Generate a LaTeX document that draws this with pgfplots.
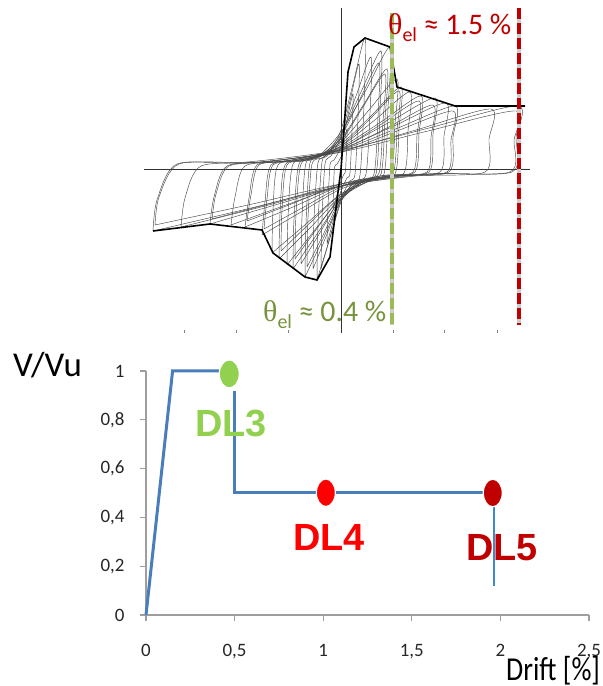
\documentclass[border=0pt]{standalone}
\usepackage{pgfplots}
\pgfplotsset{compat=1.18}
\usepackage{fontspec}
\setmainfont{Carlito}
\newfontfamily\dlfont{Liberation Sans}
\newfontfamily\thfont{Liberation Serif}

\definecolor{exblue}{HTML}{4A7EBB}
\definecolor{thinblue}{HTML}{3A8AD0}
\definecolor{dlgreen}{HTML}{92D050}
\definecolor{dlred}{HTML}{FF0000}
\definecolor{dldark}{HTML}{C00000}
\definecolor{olivetxt}{HTML}{77933C}
\definecolor{lgreen}{HTML}{9BBB59}

\pgfplotsset{
  cyc/.style={black!72, line width=0.45bp, smooth, tension=0.45},
  env/.style={black, line width=1.6bp},
}

\begin{document}
\begin{tikzpicture}[x=1bp,y=1bp]
\useasboundingbox (0,0) rectangle (603,686);

% ---------------- cyclic test: shear force vs. displacement ----------------
\begin{scope}[shift={(144,353)}]
\begin{axis}[
  at={(0,0)}, anchor=south west,
  scale only axis, width=386bp, height=325bp,
  xmin=-197, xmax=189, ymin=-164, ymax=161,
  axis lines=middle, axis line style={-, black!80, line width=0.6bp},
  xtick=\empty, ytick=\empty,
  clip=false,
]
% hysteresis cycles, first cycle at each amplitude
\addplot[cyc] coordinates {(-8,-40) (-7.5,-20) (-6.5,2) (-4,5) (0,12) (3,26) (6,40) (5.5,20) (4.5,-2) (3,-5) (0,-12) (-4,-26) (-8,-40)};
\addplot[cyc] coordinates {(-14,-75) (-13,-38) (-11,4) (-7,9) (0,22) (6,49) (12,75) (11,38) (9,-4) (6,-9) (0,-22) (-7,-49) (-14,-75)};
\addplot[cyc] coordinates {(-20,-100) (-19,-50) (-16,5) (-10,13) (0,32) (9,68) (18,105) (17,52) (14,-5) (9,-12) (0,-30) (-10,-65) (-20,-100)};
\addplot[cyc] coordinates {(-24,-111) (-23,-55) (-19,7) (-12,16) (0,39) (12,85) (24,131) (23,65) (19,-6) (12,-13) (0,-33) (-12,-72) (-24,-111)};
\addplot[cyc] coordinates {(-28,-100) (-27,-50) (-23,6) (-14,13) (0,34) (15,73) (30,112) (29,56) (25,-5) (15,-12) (0,-30) (-14,-65) (-28,-100)};
\addplot[cyc] coordinates {(-36,-108) (-35,-54) (-31,6) (-18,14) (0,35) (20,77) (40,118) (39,59) (35,-5) (20,-13) (0,-32) (-18,-70) (-36,-108)};
\addplot[cyc] coordinates {(-40,-95) (-39,-48) (-35,6) (-20,15) (0,37) (25,79) (49,122) (47,61) (43,-5) (25,-11) (0,-29) (-20,-62) (-40,-95)};
\addplot[cyc] coordinates {(-48,-100) (-47,-50) (-42,5) (-24,12) (0,30) (23,65) (46,100) (44,50) (40,-5) (23,-12) (0,-30) (-24,-65) (-48,-100)};
\addplot[cyc] coordinates {(-54,-96) (-53,-48) (-48,5) (-27,11) (0,27) (28,59) (56,90) (54,45) (50,-5) (28,-12) (0,-29) (-27,-62) (-54,-96)};
\addplot[cyc] coordinates {(-62,-90) (-61,-45) (-56,4) (-31,10) (0,25) (30,53) (60,82) (58,41) (54,-5) (30,-11) (0,-27) (-31,-59) (-62,-90)};
\addplot[cyc] coordinates {(-69,-84) (-68,-42) (-63,4) (-35,9) (0,23) (35,50) (69,77) (67,38) (63,-4) (35,-10) (0,-25) (-35,-55) (-69,-84)};
\addplot[cyc] coordinates {(-79,-66) (-76,-33) (-70,4) (-40,9) (0,22) (40,47) (80,73) (78,36) (74,-3) (40,-8) (0,-20) (-40,-43) (-79,-66)};
\addplot[cyc] coordinates {(-96,-58) (-92,-29) (-84,4) (-48,9) (0,21) (47,46) (94,71) (92,35) (88,-3) (47,-7) (0,-17) (-48,-38) (-96,-58)};
\addplot[cyc] coordinates {(-110,-56) (-106,-28) (-96,3) (-55,8) (0,20) (53,43) (105,66) (103,33) (99,-3) (53,-7) (0,-17) (-55,-36) (-110,-56)};
\addplot[cyc] coordinates {(-131,-55) (-127,-28) (-114,3) (-66,8) (0,19) (57,41) (114,63) (112,32) (108,-3) (57,-7) (0,-17) (-66,-36) (-131,-55)};
\addplot[cyc] coordinates {(-160,-58) (-156,-29) (-140,3) (-80,7) (0,18) (75,39) (150,60) (148,30) (144,-3) (75,-7) (0,-17) (-80,-38) (-160,-58)};
\addplot[cyc] coordinates {(-188,-62) (-184,-31) (-164,5) (-94,7) (0,19) (88,41) (177,63) (175,32) (171,-3) (88,-5) (0,-17) (-94,-40) (-188,-62)};
% repeated cycles with degraded strength
\addplot[cyc] coordinates {(-34,-98) (-33,-49) (-29,5) (-17,12) (0,32) (19,70) (38,106) (37,53) (33,-5) (19,-12) (0,-29) (-17,-64) (-34,-98)};
\addplot[cyc] coordinates {(-46,-90) (-45,-45) (-40,5) (-23,11) (0,28) (22,62) (44,95) (42,48) (38,-4) (22,-11) (0,-27) (-23,-58) (-46,-90)};
\addplot[cyc] coordinates {(-60,-82) (-59,-41) (-54,4) (-30,9) (0,23) (29,50) (58,78) (56,39) (52,-4) (29,-10) (0,-25) (-30,-53) (-60,-82)};
\addplot[cyc] coordinates {(-77,-60) (-74,-30) (-68,4) (-39,8) (0,20) (39,44) (78,68) (76,34) (72,-3) (39,-7) (0,-18) (-39,-39) (-77,-60)};
\addplot[cyc] coordinates {(-94,-52) (-90,-26) (-82,4) (-47,8) (0,19) (46,41) (92,64) (90,32) (86,-3) (46,-6) (0,-15) (-47,-34) (-94,-52)};
\addplot[cyc] coordinates {(-129,-50) (-125,-25) (-112,3) (-65,7) (0,17) (56,38) (112,58) (110,29) (106,-3) (56,-6) (0,-15) (-65,-33) (-129,-50)};
\addplot[cyc] coordinates {(-186,-56) (-182,-28) (-162,5) (-93,6) (0,17) (87,38) (175,58) (173,29) (169,-3) (87,-5) (0,-15) (-93,-36) (-186,-56)};
% envelope curves
\addplot[env] coordinates {(0,0) (3,40) (7,97) (13,122) (24,131) (49,122) (56,82) (114,63) (184,63)};
\addplot[env] coordinates {(0,0) (-4,-31) (-11,-88) (-24,-111) (-36,-108) (-68,-84) (-79,-61) (-131,-55) (-188,-62)};
% small ticks along the lower edge
\addplot[only marks, mark=|, mark size=1.5bp, black!50] coordinates {(-157,-163) (-105,-163) (-53,-163) (52,-163) (103,-163) (156,-163)};
% elastic drift limits
\addplot[black!20, line width=4.5bp] coordinates {(51,156) (51,-156)};
\addplot[lgreen, line width=4.5bp, dash pattern=on 11bp off 4bp] coordinates {(51,156) (51,-156)};
\addplot[black!20, line width=4.5bp] coordinates {(178,161) (178,-156)};
\addplot[dldark, line width=4.5bp, dash pattern=on 11bp off 4bp] coordinates {(178,161) (178,-156)};
\end{axis}
\end{scope}

\node[anchor=base west, inner sep=0, text=dldark, font=\fontsize{30}{30}\selectfont] at (388,651)
  {{\thfont θ}\raisebox{-7bp}{\fontsize{20}{20}\selectfont el} ≈ 1.5 \%};
\node[anchor=base west, inner sep=0, text=olivetxt, font=\fontsize{30}{30}\selectfont] at (263,364)
  {{\thfont θ}\raisebox{-7bp}{\fontsize{20}{20}\selectfont el} ≈ 0.4 \%};

% ---------------- damage levels: V/Vu vs. drift ----------------
\begin{scope}[shift={(146,71)}]
\begin{axis}[
  at={(0,0)}, anchor=south west,
  scale only axis, width=443bp, height=244bp,
  xmin=0, xmax=2.5, ymin=0, ymax=1,
  axis x line=bottom, axis y line=left,
  axis line style={-, draw=black!38, line width=1.3bp},
  xtick={0,0.5,1,1.5,2,2.5}, ytick={0,0.2,0.4,0.6,0.8,1},
  tick align=outside, major tick length=6bp,
  tick style={black!38, line width=1.2bp},
  ticklabel style={font=\fontsize{19}{19}\selectfont, text=black!85},
  xticklabel style={yshift=-20bp},
  yticklabel style={xshift=-12bp},
  xticklabel={\pgfmathprintnumber[fixed, use comma, precision=1, assume math mode=true]{\tick}},
  yticklabel={\pgfmathprintnumber[fixed, use comma, precision=1, assume math mode=true]{\tick}},
  clip=false,
]
\addplot[exblue, line width=3bp] coordinates {(0,0) (0.15,1) (0.47,1)};
\addplot[exblue, line width=3bp] coordinates {(0.5,0.92) (0.5,0.5) (1.96,0.5)};
\addplot[thinblue, line width=1.5bp] coordinates {(1.963,0.5) (1.963,0.12)};
\addplot[only marks, mark=*, mark size=10bp, mark options={yscale=1.4, draw=white, line width=1.2bp, fill=dlgreen}] coordinates {(0.47,0.988)};
\addplot[only marks, mark=*, mark size=9.5bp, mark options={yscale=1.45, draw=white, line width=1.2bp, fill=dlred}] coordinates {(1.015,0.501)};
\addplot[only marks, mark=*, mark size=9.5bp, mark options={yscale=1.45, draw=white, line width=1.2bp, fill=dldark}] coordinates {(1.957,0.5)};
\end{axis}
\end{scope}

\node[text=dlgreen, font=\dlfont\bfseries\fontsize{38}{38}\selectfont, inner sep=0] at (231,263) {DL3};
\node[text=dlred, font=\dlfont\bfseries\fontsize{38}{38}\selectfont, inner sep=0] at (329,149) {DL4};
\node[text=dldark, font=\dlfont\bfseries\fontsize{38}{38}\selectfont, inner sep=0] at (502,138) {DL5};

\node[anchor=base west, inner sep=0, font=\fontsize{35}{35}\selectfont] at (13,309) {V/Vu};
\node[anchor=base west, inner sep=0, font=\fontsize{28}{28}\selectfont] at (506,6) {\scalebox{1}[1.2]{Drift [\%]}};
\end{tikzpicture}
\end{document}
